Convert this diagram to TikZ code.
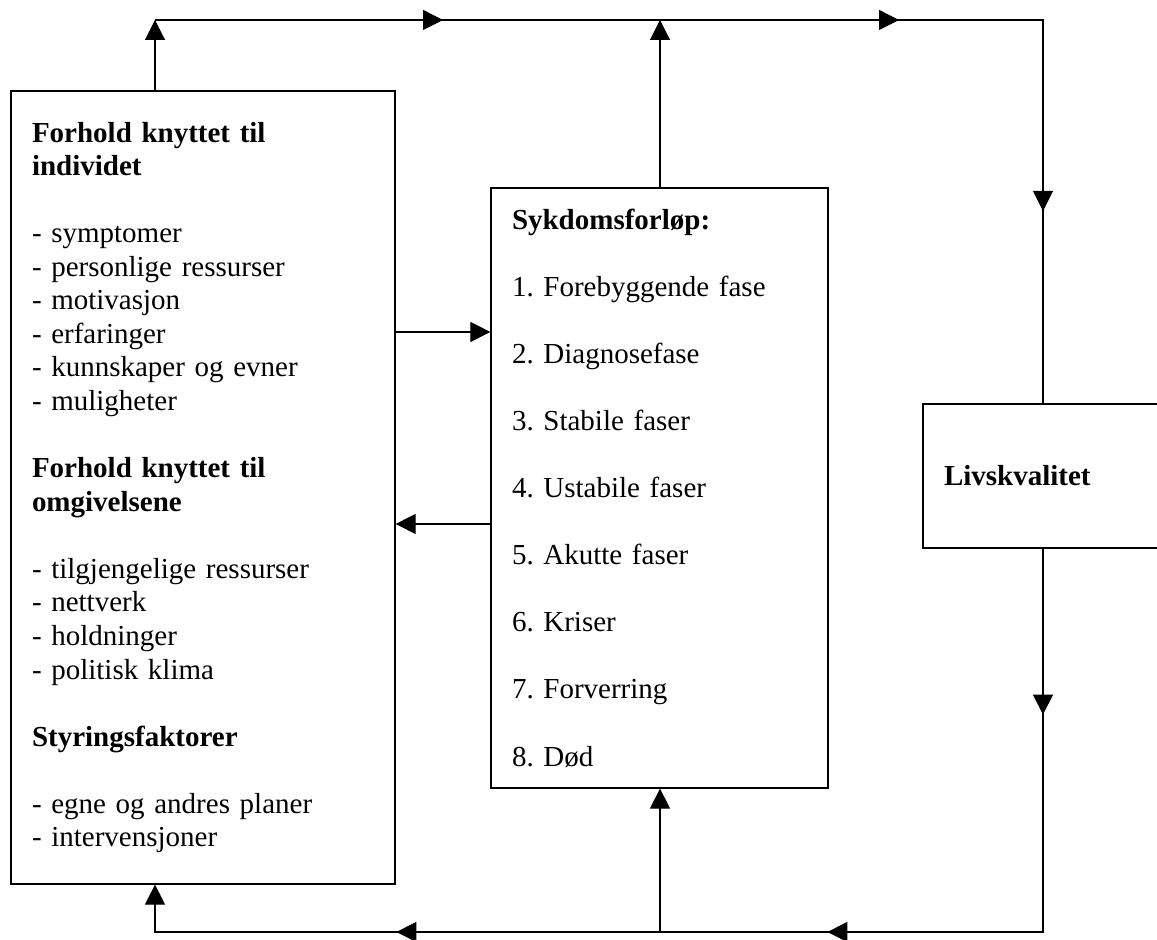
\documentclass[tikz,border=0pt]{standalone}
\usepackage{fontspec}
\setmainfont{Liberation Serif}
\usetikzlibrary{arrows.meta,decorations.markings}
\frenchspacing

\tikzset{
  >={Triangle[length=0.4cm,width=0.4cm]},
  boks/.style={draw,line width=0.7pt,align=left,inner xsep=0.42cm,inner ysep=0pt,
    font=\fontsize{16.5}{19.1}\selectfont},
  pil/.style={postaction={decorate,decoration={markings,mark=at position #1 with {\arrow{>}}}}},
}

\begin{document}
\begin{tikzpicture}[line width=0.6pt]
        \useasboundingbox (0,0) rectangle (23.14,18.8);
        \clip (0,0) rectangle (23.14,18.8);
        % boksene
        \node[boks,text width=6.84cm,minimum height=15.86cm] (individ) at (4.06,9.05) {%
          \textbf{Forhold knyttet til}\\ \textbf{individet}\\[\baselineskip]
          - symptomer\\ - personlige ressurser\\ - motivasjon\\ - erfaringer\\
          - kunnskaper og evner\\ - muligheter\\[\baselineskip]
          \textbf{Forhold knyttet til}\\ \textbf{omgivelsene}\\[\baselineskip]
          - tilgjengelige ressurser\\ - nettverk\\ - holdninger\\ - politisk klima\\[\baselineskip]
          \textbf{Styringsfaktorer}\\[\baselineskip]
          - egne og andres planer\\ - intervensjoner\par\vspace*{0.58cm}};
        \node[boks,text width=5.9cm,minimum height=12cm] (forlop) at (13.19,9.04) {%
          \textbf{Sykdomsforløp:}\\[\baselineskip]
          1. Forebyggende fase\\[\baselineskip] 2. Diagnosefase\\[\baselineskip]
          3. Stabile faser\\[\baselineskip] 4. Ustabile faser\\[\baselineskip]
          5. Akutte faser\\[\baselineskip] 6. Kriser\\[\baselineskip]
          7. Forverring\\[\baselineskip] 8. Død\par\vspace*{0.14cm}};
        \node[boks,text width=3.96cm,minimum height=2.88cm] (livs) at (20.86,9.28) {%
          \textbf{Livskvalitet}\par\vspace*{0.43cm}};
        % hjørner
        \coordinate (ov) at (3.1,18.4);
        \coordinate (om) at (13.2,18.4);
        \coordinate (oh) at (20.86,18.4);
        \coordinate (nv) at (3.1,0.16);
        \coordinate (nm) at (13.2,0.16);
        \coordinate (nh) at (20.86,0.16);
        \coordinate (h1) at (0,12.16);
        \coordinate (h2) at (0,8.32);
        % piler
        \draw[->] (individ.north -| ov) -- (ov);
        \draw[->] (forlop.north -| om) -- (om);
        \draw[pil=5.76cm,pil=14.88cm,pil=21.58cm] (ov) -- (oh) -- (livs.north);
        \draw[->,pil=3.32cm,pil=11.98cm,pil=20.6cm] (livs.south) -- (nh) -- (nv) -- (individ.south -| nv);
        \draw[->] (nm) -- (forlop.south -| nm);
        \draw[->] (individ.east |- h1) -- (forlop.west |- h1);
        \draw[->] (forlop.west |- h2) -- (individ.east |- h2);
    \end{tikzpicture}
\end{document}
